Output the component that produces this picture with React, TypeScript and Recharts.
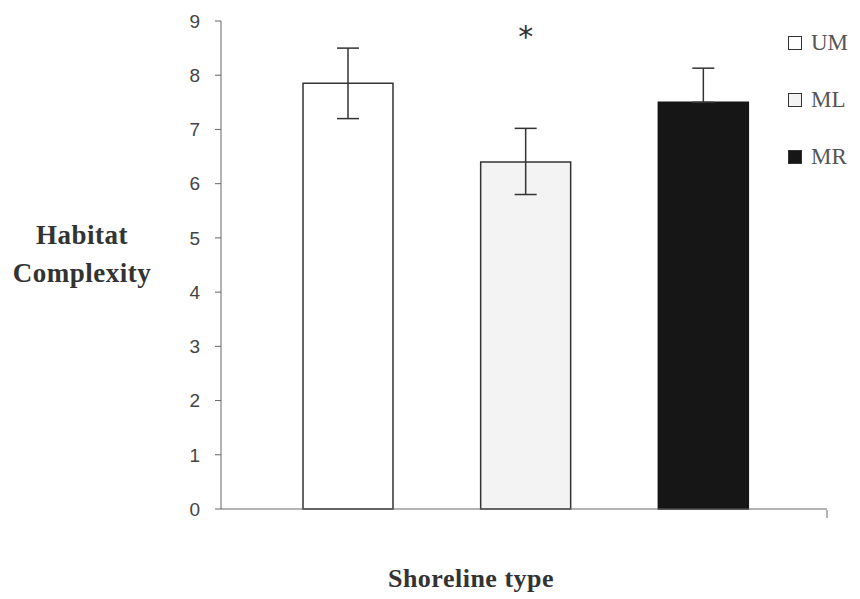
import { BarChart, Bar, XAxis, YAxis, ErrorBar, Cell, LabelList } from 'recharts';

const shorelines = ['UM', 'ML', 'MR'];
const complexity = [7.85, 6.4, 7.5];
// [below, above] the bar top; MR only shows the upper whisker
const errLow = [0.65, 0.6, 0];
const errHigh = [0.65, 0.62, 0.63];
const significance = ['', '*', ''];
const yTicks = [0, 1, 2, 3, 4, 5, 6, 7, 8, 9];

const fills = ['#ffffff', '#f3f3f4', '#161616'];
const strokes = ['#333333', '#333333', '#161616'];

const data = shorelines.map((name, i) => ({
  name,
  value: complexity[i],
  err: [errLow[i], errHigh[i]],
  sig: significance[i],
}));

const serif = '"Liberation Serif", "Times New Roman", serif';

function Asterisk(props: any) {
  const { x, width, value } = props;
  if (!value) return null;
  return (
    <text x={x + width / 2} y={47} textAnchor="middle" fontFamily="'DejaVu Sans', sans-serif" fontSize={30} fill="#333">
      {value}
    </text>
  );
}

function LegendBox() {
  return (
    <div style={{ position: 'absolute', left: 788, top: 14, fontFamily: serif, fontSize: 23, color: '#555' }}>
      {shorelines.map((name, i) => (
        <div key={name} style={{ display: 'flex', alignItems: 'center', height: 57 }}>
          <span
            style={{
              width: 12,
              height: 12,
              border: '1.5px solid #333',
              background: fills[i],
              marginRight: 9,
              display: 'inline-block',
            }}
          />
          <span>{name}</span>
        </div>
      ))}
    </div>
  );
}

export default function App() {
  return (
    <div style={{ position: 'absolute', left: 0, top: 0, width: 860, height: 599, background: '#fff' }}>
      <BarChart
        width={860}
        height={599}
        data={data}
        margin={{ top: 21, right: 33, bottom: 88, left: 150 }}
      >
        <XAxis
          dataKey="name"
          height={1}
          tick={false}
          tickLine={false}
          axisLine={{ stroke: '#666' }}
          padding={{ left: 38, right: 35 }}
        />
        {/* point scale spanning the full axis, used only for the end tick */}
        <XAxis
          xAxisId="frame"
          dataKey="name"
          scale="point"
          ticks={['MR']}
          height={1}
          axisLine={false}
          tick={() => <g />}
          tickSize={8}
          tickLine={{ stroke: '#666' }}
        />
        <YAxis
          width={71}
          domain={[0, 9]}
          ticks={yTicks}
          interval={0}
          tickSize={6}
          tickMargin={15}
          axisLine={{ stroke: '#666' }}
          tickLine={{ stroke: '#666' }}
          tick={{ fill: '#444', fontSize: 19, fontFamily: "'Liberation Sans', Arial, sans-serif" }}
        />
        <Bar dataKey="value" barSize={90} isAnimationActive={false} strokeWidth={1.5}>
          {data.map((d, i) => (
            <Cell key={d.name} fill={fills[i]} stroke={strokes[i]} />
          ))}
          <ErrorBar dataKey="err" width={11} stroke="#333" strokeWidth={1.5} />
          <LabelList dataKey="sig" content={<Asterisk />} />
        </Bar>
      </BarChart>
      <LegendBox />
      <div
        style={{
          position: 'absolute',
          left: 0,
          top: 216,
          width: 164,
          textAlign: 'center',
          fontFamily: serif,
          fontWeight: 'bold',
          fontSize: 27,
          letterSpacing: 0.5,
          lineHeight: '38px',
          color: '#333',
        }}
      >
        Habitat
        <br />
        Complexity
      </div>
      <div
        style={{
          position: 'absolute',
          left: 371,
          top: 564,
          width: 200,
          textAlign: 'center',
          fontFamily: serif,
          fontWeight: 'bold',
          fontSize: 26,
          letterSpacing: 0.5,
          color: '#333',
        }}
      >
        Shoreline type
      </div>
    </div>
  );
}
